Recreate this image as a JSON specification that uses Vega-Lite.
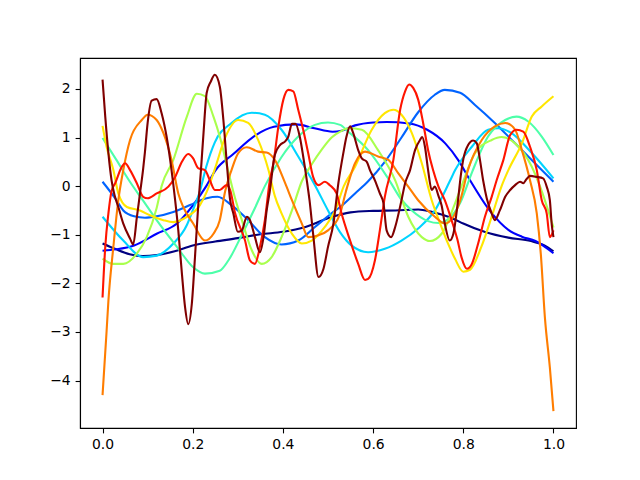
{
"$schema": "https://vega.github.io/schema/vega-lite/v6.json",
"width": 496, "height": 370,
"autosize": {"type": "none"},
"padding": {"left": 80, "top": 58, "right": 64, "bottom": 52},
"config": {"font": "DejaVu Sans", "view": {"stroke": "black", "strokeWidth": 1.1},
 "axis": {"grid": false, "domainColor": "black", "domainWidth": 1.1, "tickColor": "black", "tickWidth": 1.1, "tickSize": 4.9, "labelFontSize": 13.9, "labelColor": "black", "labelPadding": 4.9, "title": null}},
"data": {"values": [
{"s":0,"x":0,"y":-1.18},{"s":0,"x":0.03,"y":-1.3},{"s":0,"x":0.06,"y":-1.4},{"s":0,"x":0.09,"y":-1.44},{"s":0,"x":0.12,"y":-1.42},{"s":0,"x":0.16,"y":-1.34},{"s":0,"x":0.2,"y":-1.22},{"s":0,"x":0.25,"y":-1.14},{"s":0,"x":0.3,"y":-1.07},{"s":0,"x":0.35,"y":-0.99},{"s":0,"x":0.4,"y":-0.94},{"s":0,"x":0.45,"y":-0.84},{"s":0,"x":0.5,"y":-0.66},{"s":0,"x":0.55,"y":-0.54},{"s":0,"x":0.6,"y":-0.51},{"s":0,"x":0.65,"y":-0.5},{"s":0,"x":0.7,"y":-0.48},{"s":0,"x":0.73,"y":-0.53},{"s":0,"x":0.75,"y":-0.58},{"s":0,"x":0.78,"y":-0.68},{"s":0,"x":0.8,"y":-0.77},{"s":0,"x":0.85,"y":-0.95},{"s":0,"x":0.9,"y":-1.06},{"s":0,"x":0.95,"y":-1.13},{"s":0,"x":0.98,"y":-1.22},{"s":0,"x":1,"y":-1.34},
{"s":1,"x":0,"y":-1.33},{"s":1,"x":0.03,"y":-1.3},{"s":1,"x":0.07,"y":-1.22},{"s":1,"x":0.12,"y":-0.98},{"s":1,"x":0.165,"y":-0.77},{"s":1,"x":0.2,"y":-0.4},{"s":1,"x":0.23,"y":0.0},{"s":1,"x":0.25,"y":0.32},{"s":1,"x":0.29,"y":0.66},{"s":1,"x":0.34,"y":1.05},{"s":1,"x":0.38,"y":1.22},{"s":1,"x":0.43,"y":1.27},{"s":1,"x":0.47,"y":1.19},{"s":1,"x":0.51,"y":1.12},{"s":1,"x":0.53,"y":1.14},{"s":1,"x":0.56,"y":1.25},{"s":1,"x":0.6,"y":1.31},{"s":1,"x":0.63,"y":1.32},{"s":1,"x":0.68,"y":1.29},{"s":1,"x":0.72,"y":1.16},{"s":1,"x":0.76,"y":0.88},{"s":1,"x":0.79,"y":0.52},{"s":1,"x":0.815,"y":0.12},{"s":1,"x":0.86,"y":-0.52},{"s":1,"x":0.9,"y":-0.9},{"s":1,"x":0.93,"y":-1.04},{"s":1,"x":0.96,"y":-1.13},{"s":1,"x":1,"y":-1.38},
{"s":2,"x":0,"y":0.09},{"s":2,"x":0.031,"y":-0.29},{"s":2,"x":0.046,"y":-0.5},{"s":2,"x":0.07,"y":-0.62},{"s":2,"x":0.094,"y":-0.65},{"s":2,"x":0.12,"y":-0.62},{"s":2,"x":0.157,"y":-0.53},{"s":2,"x":0.194,"y":-0.39},{"s":2,"x":0.231,"y":-0.25},{"s":2,"x":0.255,"y":-0.22},{"s":2,"x":0.286,"y":-0.39},{"s":2,"x":0.323,"y":-0.7},{"s":2,"x":0.36,"y":-1.05},{"s":2,"x":0.397,"y":-1.2},{"s":2,"x":0.434,"y":-1.12},{"s":2,"x":0.471,"y":-0.84},{"s":2,"x":0.508,"y":-0.56},{"s":2,"x":0.527,"y":-0.43},{"s":2,"x":0.56,"y":-0.15},{"s":2,"x":0.589,"y":0.1},{"s":2,"x":0.626,"y":0.5},{"s":2,"x":0.663,"y":1.0},{"s":2,"x":0.7,"y":1.52},{"s":2,"x":0.737,"y":1.88},{"s":2,"x":0.759,"y":1.98},{"s":2,"x":0.793,"y":1.92},{"s":2,"x":0.826,"y":1.67},{"s":2,"x":0.87,"y":1.3},{"s":2,"x":0.915,"y":0.88},{"s":2,"x":0.959,"y":0.47},{"s":2,"x":1,"y":0.09},
{"s":3,"x":0,"y":-0.63},{"s":3,"x":0.046,"y":-1.12},{"s":3,"x":0.09,"y":-1.46},{"s":3,"x":0.12,"y":-1.43},{"s":3,"x":0.157,"y":-1.18},{"s":3,"x":0.187,"y":-0.8},{"s":3,"x":0.2,"y":-0.5},{"s":3,"x":0.216,"y":-0.1},{"s":3,"x":0.23,"y":0.4},{"s":3,"x":0.249,"y":0.9},{"s":3,"x":0.286,"y":1.3},{"s":3,"x":0.331,"y":1.51},{"s":3,"x":0.36,"y":1.47},{"s":3,"x":0.397,"y":1.16},{"s":3,"x":0.434,"y":0.61},{"s":3,"x":0.471,"y":0.02},{"s":3,"x":0.5,"y":-0.5},{"s":3,"x":0.527,"y":-0.95},{"s":3,"x":0.552,"y":-1.22},{"s":3,"x":0.589,"y":-1.36},{"s":3,"x":0.626,"y":-1.29},{"s":3,"x":0.663,"y":-1.12},{"s":3,"x":0.7,"y":-0.87},{"s":3,"x":0.737,"y":-0.5},{"s":3,"x":0.77,"y":0.1},{"s":3,"x":0.782,"y":0.33},{"s":3,"x":0.819,"y":0.81},{"s":3,"x":0.855,"y":1.16},{"s":3,"x":0.878,"y":1.19},{"s":3,"x":0.907,"y":1.09},{"s":3,"x":0.952,"y":0.68},{"s":3,"x":1,"y":0.16},
{"s":4,"x":0,"y":0.99},{"s":4,"x":0.03,"y":0.55},{"s":4,"x":0.06,"y":0.1},{"s":4,"x":0.09,"y":-0.3},{"s":4,"x":0.12,"y":-0.7},{"s":4,"x":0.165,"y":-1.25},{"s":4,"x":0.201,"y":-1.67},{"s":4,"x":0.227,"y":-1.8},{"s":4,"x":0.26,"y":-1.74},{"s":4,"x":0.279,"y":-1.53},{"s":4,"x":0.309,"y":-1.0},{"s":4,"x":0.338,"y":-0.45},{"s":4,"x":0.36,"y":0.0},{"s":4,"x":0.397,"y":0.6},{"s":4,"x":0.434,"y":1.02},{"s":4,"x":0.471,"y":1.26},{"s":4,"x":0.5,"y":1.31},{"s":4,"x":0.527,"y":1.26},{"s":4,"x":0.545,"y":1.12},{"s":4,"x":0.589,"y":0.74},{"s":4,"x":0.634,"y":0.15},{"s":4,"x":0.663,"y":-0.28},{"s":4,"x":0.686,"y":-0.5},{"s":4,"x":0.722,"y":-0.72},{"s":4,"x":0.745,"y":-0.76},{"s":4,"x":0.77,"y":-0.65},{"s":4,"x":0.793,"y":-0.35},{"s":4,"x":0.82,"y":0.3},{"s":4,"x":0.855,"y":1.02},{"s":4,"x":0.893,"y":1.36},{"s":4,"x":0.918,"y":1.43},{"s":4,"x":0.944,"y":1.33},{"s":4,"x":0.974,"y":1.02},{"s":4,"x":1,"y":0.64},
{"s":5,"x":0,"y":-1.49},{"s":5,"x":0.024,"y":-1.6},{"s":5,"x":0.046,"y":-1.6},{"s":5,"x":0.076,"y":-1.39},{"s":5,"x":0.098,"y":-1.05},{"s":5,"x":0.12,"y":-0.45},{"s":5,"x":0.131,"y":0.0},{"s":5,"x":0.157,"y":0.54},{"s":5,"x":0.187,"y":1.43},{"s":5,"x":0.209,"y":1.9},{"s":5,"x":0.227,"y":1.85},{"s":5,"x":0.246,"y":1.43},{"s":5,"x":0.26,"y":1.02},{"s":5,"x":0.279,"y":0.3},{"s":5,"x":0.294,"y":-0.25},{"s":5,"x":0.309,"y":-0.7},{"s":5,"x":0.331,"y":-1.32},{"s":5,"x":0.353,"y":-1.6},{"s":5,"x":0.375,"y":-1.46},{"s":5,"x":0.397,"y":-1.05},{"s":5,"x":0.42,"y":-0.5},{"s":5,"x":0.442,"y":0.1},{"s":5,"x":0.464,"y":0.45},{"s":5,"x":0.486,"y":0.75},{"s":5,"x":0.508,"y":1.0},{"s":5,"x":0.527,"y":1.12},{"s":5,"x":0.545,"y":1.19},{"s":5,"x":0.575,"y":1.16},{"s":5,"x":0.611,"y":0.74},{"s":5,"x":0.649,"y":0.12},{"s":5,"x":0.678,"y":-0.63},{"s":5,"x":0.708,"y":-1.05},{"s":5,"x":0.726,"y":-1.13},{"s":5,"x":0.752,"y":-0.98},{"s":5,"x":0.782,"y":-0.35},{"s":5,"x":0.8,"y":0.1},{"s":5,"x":0.826,"y":0.68},{"s":5,"x":0.863,"y":0.95},{"s":5,"x":0.885,"y":1.01},{"s":5,"x":0.915,"y":0.88},{"s":5,"x":0.952,"y":0.4},{"s":5,"x":0.97,"y":0.0},{"s":5,"x":1,"y":-0.85},
{"s":6,"x":0,"y":1.24},{"s":6,"x":0.009,"y":0.81},{"s":6,"x":0.024,"y":0.33},{"s":6,"x":0.035,"y":-0.15},{"s":6,"x":0.054,"y":-0.43},{"s":6,"x":0.083,"y":-0.5},{"s":6,"x":0.105,"y":-0.6},{"s":6,"x":0.135,"y":-0.7},{"s":6,"x":0.157,"y":-0.74},{"s":6,"x":0.187,"y":-0.63},{"s":6,"x":0.216,"y":-0.39},{"s":6,"x":0.231,"y":-0.12},{"s":6,"x":0.249,"y":0.35},{"s":6,"x":0.272,"y":1.0},{"s":6,"x":0.301,"y":1.36},{"s":6,"x":0.323,"y":1.3},{"s":6,"x":0.345,"y":0.95},{"s":6,"x":0.368,"y":0.33},{"s":6,"x":0.382,"y":-0.2},{"s":6,"x":0.397,"y":-0.56},{"s":6,"x":0.42,"y":-0.98},{"s":6,"x":0.442,"y":-1.18},{"s":6,"x":0.464,"y":-1.12},{"s":6,"x":0.493,"y":-0.84},{"s":6,"x":0.516,"y":-0.5},{"s":6,"x":0.535,"y":0.0},{"s":6,"x":0.56,"y":0.4},{"s":6,"x":0.597,"y":1.16},{"s":6,"x":0.626,"y":1.5},{"s":6,"x":0.645,"y":1.57},{"s":6,"x":0.663,"y":1.47},{"s":6,"x":0.686,"y":1.09},{"s":6,"x":0.708,"y":0.47},{"s":6,"x":0.73,"y":-0.29},{"s":6,"x":0.748,"y":-0.75},{"s":6,"x":0.767,"y":-1.2},{"s":6,"x":0.782,"y":-1.5},{"s":6,"x":0.8,"y":-1.76},{"s":6,"x":0.815,"y":-1.72},{"s":6,"x":0.84,"y":-1.25},{"s":6,"x":0.863,"y":-0.63},{"s":6,"x":0.885,"y":0.0},{"s":6,"x":0.9,"y":0.33},{"s":6,"x":0.93,"y":0.88},{"s":6,"x":0.952,"y":1.43},{"s":6,"x":0.974,"y":1.64},{"s":6,"x":1,"y":1.85},
{"s":7,"x":0,"y":-4.3},{"s":7,"x":0.009,"y":-2.98},{"s":7,"x":0.013,"y":-2.36},{"s":7,"x":0.024,"y":-1.25},{"s":7,"x":0.035,"y":-0.29},{"s":7,"x":0.046,"y":0.33},{"s":7,"x":0.061,"y":0.95},{"s":7,"x":0.087,"y":1.36},{"s":7,"x":0.1,"y":1.47},{"s":7,"x":0.12,"y":1.36},{"s":7,"x":0.135,"y":1.09},{"s":7,"x":0.153,"y":0.54},{"s":7,"x":0.168,"y":-0.15},{"s":7,"x":0.179,"y":-0.43},{"s":7,"x":0.201,"y":-0.77},{"s":7,"x":0.227,"y":-1.12},{"s":7,"x":0.246,"y":-0.98},{"s":7,"x":0.26,"y":-0.7},{"s":7,"x":0.272,"y":-0.1},{"s":7,"x":0.286,"y":0.33},{"s":7,"x":0.301,"y":0.68},{"s":7,"x":0.32,"y":0.8},{"s":7,"x":0.345,"y":0.71},{"s":7,"x":0.364,"y":0.69},{"s":7,"x":0.382,"y":0.54},{"s":7,"x":0.405,"y":0.06},{"s":7,"x":0.42,"y":-0.29},{"s":7,"x":0.442,"y":-0.77},{"s":7,"x":0.456,"y":-1.05},{"s":7,"x":0.479,"y":-1.01},{"s":7,"x":0.5,"y":-0.91},{"s":7,"x":0.527,"y":-0.56},{"s":7,"x":0.54,"y":-0.1},{"s":7,"x":0.56,"y":0.47},{"s":7,"x":0.582,"y":0.71},{"s":7,"x":0.611,"y":0.61},{"s":7,"x":0.634,"y":0.54},{"s":7,"x":0.656,"y":0.26},{"s":7,"x":0.678,"y":-0.01},{"s":7,"x":0.7,"y":-0.29},{"s":7,"x":0.737,"y":-0.63},{"s":7,"x":0.759,"y":-0.77},{"s":7,"x":0.778,"y":-0.63},{"s":7,"x":0.793,"y":-0.3},{"s":7,"x":0.811,"y":0.35},{"s":7,"x":0.841,"y":0.95},{"s":7,"x":0.87,"y":1.23},{"s":7,"x":0.893,"y":1.3},{"s":7,"x":0.915,"y":1.16},{"s":7,"x":0.93,"y":0.74},{"s":7,"x":0.948,"y":0.12},{"s":7,"x":0.963,"y":-0.56},{"s":7,"x":0.972,"y":-1.4},{"s":7,"x":0.981,"y":-2.7},{"s":7,"x":0.992,"y":-3.73},{"s":7,"x":1,"y":-4.63},
{"s":8,"x":0,"y":-2.29},{"s":8,"x":0.006,"y":-1.25},{"s":8,"x":0.013,"y":-0.56},{"s":8,"x":0.02,"y":-0.1},{"s":8,"x":0.028,"y":0.06},{"s":8,"x":0.043,"y":0.4},{"s":8,"x":0.05,"y":0.47},{"s":8,"x":0.061,"y":0.33},{"s":8,"x":0.076,"y":0.06},{"s":8,"x":0.09,"y":-0.22},{"s":8,"x":0.1,"y":-0.25},{"s":8,"x":0.12,"y":-0.15},{"s":8,"x":0.146,"y":-0.01},{"s":8,"x":0.161,"y":0.19},{"s":8,"x":0.176,"y":0.5},{"s":8,"x":0.19,"y":0.66},{"s":8,"x":0.201,"y":0.57},{"s":8,"x":0.212,"y":0.37},{"s":8,"x":0.227,"y":0.33},{"s":8,"x":0.238,"y":0.12},{"s":8,"x":0.249,"y":-0.08},{"s":8,"x":0.26,"y":-0.08},{"s":8,"x":0.275,"y":0.02},{"s":8,"x":0.283,"y":-0.08},{"s":8,"x":0.294,"y":-0.56},{"s":8,"x":0.316,"y":-1.12},{"s":8,"x":0.327,"y":-1.53},{"s":8,"x":0.338,"y":-1.6},{"s":8,"x":0.349,"y":-1.25},{"s":8,"x":0.36,"y":-0.7},{"s":8,"x":0.371,"y":0.12},{"s":8,"x":0.379,"y":0.47},{"s":8,"x":0.39,"y":1.23},{"s":8,"x":0.401,"y":1.78},{"s":8,"x":0.412,"y":1.98},{"s":8,"x":0.423,"y":1.95},{"s":8,"x":0.434,"y":1.57},{"s":8,"x":0.445,"y":1.16},{"s":8,"x":0.456,"y":0.68},{"s":8,"x":0.467,"y":0.19},{"s":8,"x":0.479,"y":0.02},{"s":8,"x":0.493,"y":0.09},{"s":8,"x":0.504,"y":0.02},{"s":8,"x":0.519,"y":-0.15},{"s":8,"x":0.53,"y":-0.56},{"s":8,"x":0.549,"y":-1.12},{"s":8,"x":0.567,"y":-1.6},{"s":8,"x":0.582,"y":-1.93},{"s":8,"x":0.589,"y":-1.91},{"s":8,"x":0.604,"y":-1.53},{"s":8,"x":0.615,"y":-0.91},{"s":8,"x":0.626,"y":-0.22},{"s":8,"x":0.645,"y":0.54},{"s":8,"x":0.66,"y":1.57},{"s":8,"x":0.671,"y":1.95},{"s":8,"x":0.68,"y":2.09},{"s":8,"x":0.689,"y":2.02},{"s":8,"x":0.7,"y":1.78},{"s":8,"x":0.711,"y":1.3},{"s":8,"x":0.722,"y":0.74},{"s":8,"x":0.733,"y":0.33},{"s":8,"x":0.745,"y":-0.01},{"s":8,"x":0.759,"y":-0.29},{"s":8,"x":0.774,"y":-0.7},{"s":8,"x":0.787,"y":-1.1},{"s":8,"x":0.796,"y":-1.46},{"s":8,"x":0.808,"y":-1.7},{"s":8,"x":0.819,"y":-1.6},{"s":8,"x":0.833,"y":-1.18},{"s":8,"x":0.848,"y":-0.63},{"s":8,"x":0.863,"y":-0.22},{"s":8,"x":0.874,"y":0.12},{"s":8,"x":0.889,"y":0.54},{"s":8,"x":0.904,"y":1.05},{"s":8,"x":0.918,"y":1.16},{"s":8,"x":0.933,"y":1.12},{"s":8,"x":0.948,"y":0.81},{"s":8,"x":0.963,"y":0.33},{"s":8,"x":0.974,"y":-0.29},{"s":8,"x":0.985,"y":-0.56},{"s":8,"x":0.992,"y":-1.05},{"s":8,"x":1,"y":-0.91},
{"s":9,"x":0,"y":2.19},{"s":9,"x":0.006,"y":1.43},{"s":9,"x":0.013,"y":0.68},{"s":9,"x":0.02,"y":0.12},{"s":9,"x":0.027,"y":-0.2},{"s":9,"x":0.035,"y":-0.43},{"s":9,"x":0.046,"y":-0.77},{"s":9,"x":0.061,"y":-1.08},{"s":9,"x":0.068,"y":-1.2},{"s":9,"x":0.076,"y":-0.65},{"s":9,"x":0.083,"y":-0.15},{"s":9,"x":0.09,"y":0.35},{"s":9,"x":0.094,"y":0.7},{"s":9,"x":0.1,"y":1.3},{"s":9,"x":0.109,"y":1.76},{"s":9,"x":0.12,"y":1.79},{"s":9,"x":0.131,"y":1.5},{"s":9,"x":0.142,"y":1.02},{"s":9,"x":0.153,"y":0.33},{"s":9,"x":0.161,"y":-0.29},{"s":9,"x":0.168,"y":-0.91},{"s":9,"x":0.176,"y":-1.8},{"s":9,"x":0.183,"y":-2.49},{"s":9,"x":0.19,"y":-2.84},{"s":9,"x":0.198,"y":-2.42},{"s":9,"x":0.205,"y":-1.46},{"s":9,"x":0.212,"y":-0.43},{"s":9,"x":0.218,"y":0.3},{"s":9,"x":0.224,"y":1.1},{"s":9,"x":0.231,"y":1.92},{"s":9,"x":0.24,"y":2.15},{"s":9,"x":0.249,"y":2.29},{"s":9,"x":0.26,"y":2.05},{"s":9,"x":0.268,"y":1.36},{"s":9,"x":0.275,"y":0.54},{"s":9,"x":0.283,"y":-0.29},{"s":9,"x":0.29,"y":-0.56},{"s":9,"x":0.3,"y":-0.94},{"s":9,"x":0.309,"y":-0.91},{"s":9,"x":0.32,"y":-0.63},{"s":9,"x":0.327,"y":-0.7},{"s":9,"x":0.338,"y":-1.05},{"s":9,"x":0.349,"y":-1.36},{"s":9,"x":0.357,"y":-1.05},{"s":9,"x":0.364,"y":-0.5},{"s":9,"x":0.371,"y":-0.1},{"s":9,"x":0.382,"y":0.64},{"s":9,"x":0.394,"y":0.85},{"s":9,"x":0.405,"y":0.92},{"s":9,"x":0.412,"y":1.02},{"s":9,"x":0.42,"y":1.28},{"s":9,"x":0.428,"y":1.28},{"s":9,"x":0.438,"y":0.99},{"s":9,"x":0.445,"y":0.61},{"s":9,"x":0.453,"y":0.12},{"s":9,"x":0.459,"y":-0.29},{"s":9,"x":0.467,"y":-0.98},{"s":9,"x":0.479,"y":-1.87},{"s":9,"x":0.49,"y":-1.7},{"s":9,"x":0.5,"y":-1.25},{"s":9,"x":0.512,"y":-0.77},{"s":9,"x":0.523,"y":0.06},{"s":9,"x":0.534,"y":0.68},{"s":9,"x":0.541,"y":1.02},{"s":9,"x":0.549,"y":1.23},{"s":9,"x":0.556,"y":1.09},{"s":9,"x":0.567,"y":0.74},{"s":9,"x":0.575,"y":0.57},{"s":9,"x":0.586,"y":0.5},{"s":9,"x":0.593,"y":0.33},{"s":9,"x":0.604,"y":0.12},{"s":9,"x":0.615,"y":-0.15},{"s":9,"x":0.623,"y":-0.35},{"s":9,"x":0.63,"y":-0.91},{"s":9,"x":0.64,"y":-1.05},{"s":9,"x":0.649,"y":-0.84},{"s":9,"x":0.663,"y":-0.29},{"s":9,"x":0.671,"y":0.06},{"s":9,"x":0.682,"y":0.33},{"s":9,"x":0.693,"y":0.74},{"s":9,"x":0.704,"y":0.95},{"s":9,"x":0.709,"y":1.01},{"s":9,"x":0.715,"y":0.81},{"s":9,"x":0.722,"y":0.33},{"s":9,"x":0.73,"y":-0.08},{"s":9,"x":0.737,"y":-0.01},{"s":9,"x":0.745,"y":-0.2},{"s":9,"x":0.752,"y":-0.4},{"s":9,"x":0.759,"y":-0.77},{"s":9,"x":0.77,"y":-1.12},{"s":9,"x":0.778,"y":-0.98},{"s":9,"x":0.787,"y":-0.4},{"s":9,"x":0.795,"y":0.25},{"s":9,"x":0.8,"y":0.55},{"s":9,"x":0.811,"y":0.85},{"s":9,"x":0.822,"y":0.94},{"s":9,"x":0.83,"y":0.88},{"s":9,"x":0.837,"y":0.54},{"s":9,"x":0.844,"y":0.12},{"s":9,"x":0.852,"y":-0.25},{"s":9,"x":0.863,"y":-0.56},{"s":9,"x":0.87,"y":-0.7},{"s":9,"x":0.881,"y":-0.5},{"s":9,"x":0.893,"y":-0.22},{"s":9,"x":0.904,"y":-0.08},{"s":9,"x":0.915,"y":0.02},{"s":9,"x":0.926,"y":0.09},{"s":9,"x":0.933,"y":0.06},{"s":9,"x":0.94,"y":0.14},{"s":9,"x":0.948,"y":0.21},{"s":9,"x":0.963,"y":0.19},{"s":9,"x":0.977,"y":0.16},{"s":9,"x":0.985,"y":-0.01},{"s":9,"x":0.992,"y":-0.29},{"s":9,"x":0.996,"y":-0.77},{"s":9,"x":1,"y":-1.05}
]},
"mark": {"type": "line", "strokeWidth": 2.1, "interpolate": "monotone", "clip": true},
"encoding": {
 "x": {"field": "x", "type": "quantitative", "scale": {"domain": [-0.05, 1.05], "nice": false, "zero": false}, "axis": {"values": [0, 0.2, 0.4, 0.6, 0.8, 1.0], "format": ".1f"}},
 "y": {"field": "y", "type": "quantitative", "scale": {"domain": [-4.976, 2.636], "nice": false, "zero": false}, "axis": {"values": [-4, -3, -2, -1, 0, 1, 2], "format": "d"}},
 "color": {"field": "s", "type": "nominal", "legend": null, "scale": {"domain": [0,1,2,3,4,5,6,7,8,9], "range": ["#000080", "#0000ff", "#0063ff", "#00d4ff", "#4dffa9", "#a9ff4d", "#ffe600", "#ff7d00", "#ff1400", "#800000"]}}
}
}
